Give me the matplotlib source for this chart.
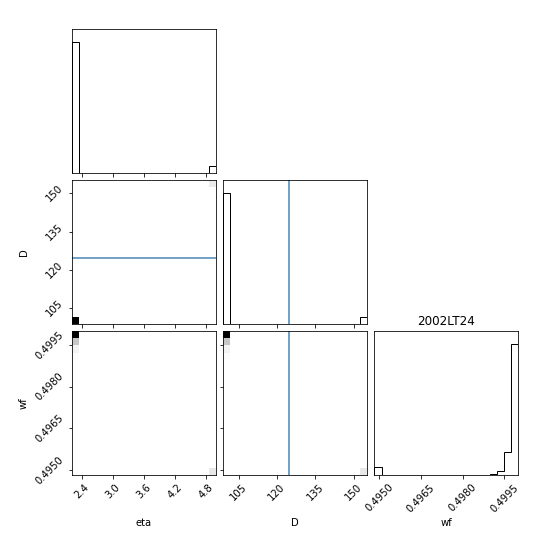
import matplotlib
matplotlib.use("Agg")
import matplotlib.pyplot as plt
from matplotlib.colors import PowerNorm, LinearSegmentedColormap

# parameter names and weighted posterior samples (main cluster + tail + far cluster)
labels = ["eta", "D", "wf"]
eta = [2.21, 2.21, 2.21, 2.21, 4.99]
D = [99.2, 99.2, 99.2, 99.2, 155.2]
wf = [0.49990, 0.49960, 0.49935, 0.49910, 0.49490]
weights = [1.0, 0.173, 0.028, 0.007, 0.061]

ranges = [(2.206, 4.994), (99.0, 155.3), (0.49483, 0.50000)]
ticks = [[2.4, 3.0, 3.6, 4.2, 4.8], [105, 120, 135, 150], [0.4950, 0.4965, 0.4980, 0.4995]]
tick_fmt = ["{:.1f}", "{:.0f}", "{:.4f}"]
truths = [None, 124.6, None]
title = "2002LT24"

samples = [eta, D, wf]
nbins = 20
truth_color = "#4682b4"
cmap = LinearSegmentedColormap.from_list("dens", ["#ffffff", "#000000"])

fig, axes = plt.subplots(3, 3, figsize=(7.6, 7.6), dpi=72)
fig.subplots_adjust(left=1 / 7.6, bottom=1 / 7.6, right=7.2 / 7.6, top=7.2 / 7.6,
                    wspace=0.05, hspace=0.05)

K = len(labels)
for i in range(K):
    for j in range(K):
        ax = axes[i, j]
        if j > i:
            ax.axis("off")
            continue
        if i == j:
            n, _, _ = ax.hist(samples[i], bins=nbins, range=ranges[i], weights=weights,
                              histtype="step", color="k")
            ax.set_ylim(0, 1.1 * n.max())
            ax.set_yticks([])
            if truths[i] is not None:
                ax.axvline(truths[i], color=truth_color)
        else:
            ax.hist2d(samples[j], samples[i], bins=nbins, range=[ranges[j], ranges[i]],
                      weights=weights, cmap=cmap, norm=PowerNorm(0.85, vmin=0), cmin=1e-9)
            if truths[j] is not None:
                ax.axvline(truths[j], color=truth_color)
            if truths[i] is not None:
                ax.axhline(truths[i], color=truth_color)
            ax.set_ylim(ranges[i])
            ax.set_yticks(ticks[i])
            if j == 0:
                ax.set_yticklabels([tick_fmt[i].format(t) for t in ticks[i]], rotation=45,
                                   va="center")
                ax.set_ylabel(labels[i])
                ax.yaxis.set_label_coords(-0.3, 0.5)
            else:
                ax.set_yticklabels([])
        ax.set_xlim(ranges[j])
        ax.set_xticks(ticks[j])
        if i == K - 1:
            ax.set_xticklabels([tick_fmt[j].format(t) for t in ticks[j]], rotation=45)
            ax.set_xlabel(labels[j])
            ax.xaxis.set_label_coords(0.5, -0.3)
        else:
            ax.set_xticklabels([])

axes[K - 1, K - 1].set_title(title)

fig.savefig("out.png", dpi=72)
